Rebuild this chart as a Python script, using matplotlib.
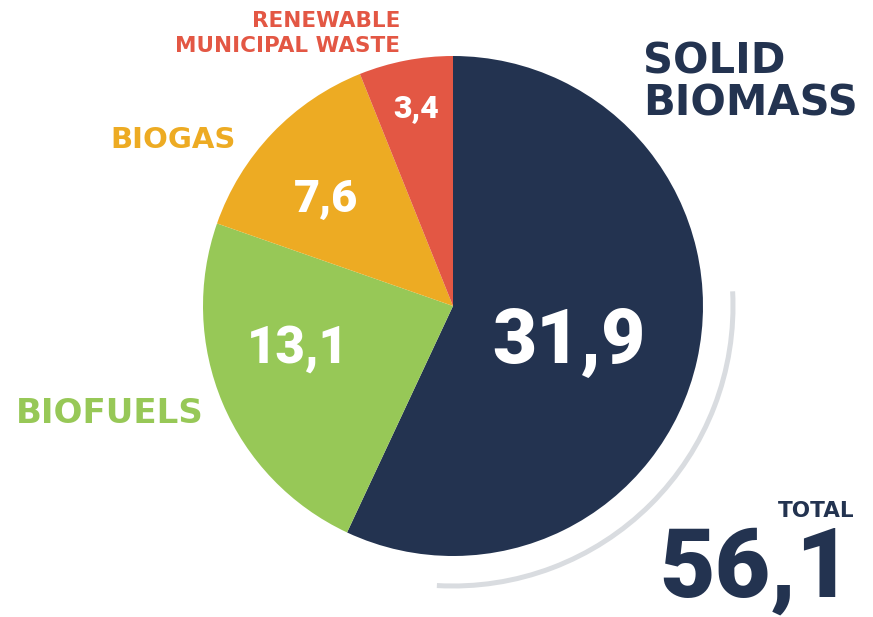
import matplotlib
matplotlib.use('Agg')
import matplotlib.pyplot as plt
from matplotlib.patches import Arc

# data
categories = ['SOLID\nBIOMASS', 'BIOFUELS', 'BIOGAS', 'RENEWABLE\nMUNICIPAL WASTE']
values = [31.9, 13.1, 7.6, 3.4]
value_labels = ['31,9', '13,1', '7,6', '3,4']
total_label = '56,1'
colors = ['#233350', '#97C857', '#EDAB23', '#E35744']

W, H = 873, 617
fig = plt.figure(figsize=(W / 100, H / 100), dpi=100)
ax = fig.add_axes([0, 0, 1, 1])

cx, cy, r = 453, H - 306, 250
ax.pie(values, colors=colors, startangle=90, counterclock=False,
       center=(cx, cy), radius=r, wedgeprops=dict(linewidth=0))

# grey arc round the lower right
ax.add_patch(Arc((cx, cy), 2 * 280, 2 * 280, theta1=-93.3, theta2=3,
                 color='#D9DCE0', lw=3.6, capstyle='butt'))

ax.set_xlim(0, W)
ax.set_ylim(0, H)
ax.set_aspect('equal', adjustable='box')
ax.axis('off')

lab = dict(family='DejaVu Sans', weight='bold', va='baseline')
num = dict(family='Roboto', weight=900, va='baseline', ha='center', color='white')

# category labels
ax.text(643, H - 73, 'SOLID', fontsize=30, color=colors[0], ha='left', **lab)
ax.text(643, H - 115, 'BIOMASS', fontsize=30, color=colors[0], ha='left', **lab)
ax.text(16, H - 423, categories[1], fontsize=24.5, color=colors[1], ha='left', **lab)
ax.text(236, H - 148, categories[2], fontsize=21, color=colors[2], ha='right', **lab)
ax.text(400, H - 27, 'RENEWABLE', fontsize=15.5, color=colors[3], ha='right', **lab)
ax.text(400, H - 52, 'MUNICIPAL WASTE', fontsize=15.5, color=colors[3], ha='right', **lab)

# values inside the slices
ax.text(569, H - 363, value_labels[0], fontsize=55, **num)
ax.text(298, H - 363, value_labels[1], fontsize=36.5, **num)
ax.text(326, H - 212, value_labels[2], fontsize=32.5, **num)
ax.text(416, H - 117, value_labels[3], fontsize=23, **num)

# total
ax.text(855, H - 517, 'TOTAL', fontsize=15.5, color=colors[0], ha='right', **lab)
ax.text(852, H - 597, total_label, fontsize=69, color=colors[0], family='Roboto',
        weight=900, ha='right', va='baseline')

fig.savefig('out.png', dpi=100, facecolor='white')
